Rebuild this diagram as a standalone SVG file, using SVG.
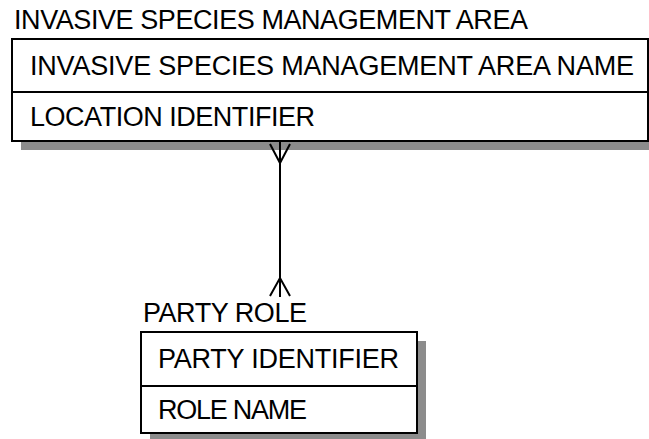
<svg xmlns="http://www.w3.org/2000/svg" width="649" height="439" viewBox="0 0 649 439">
<style>
text { font-family: "Liberation Sans", Arial, sans-serif; font-size: 27px; fill: #000; }
.box { fill: #fff; stroke: #000; stroke-width: 2; }
.shadow { fill: #8c8c8c; }
.div { stroke: #000; stroke-width: 2; }
.conn { fill: none; stroke: #000; stroke-width: 2; }
</style>
<rect width="649" height="439" fill="#fff"/>
<g id="invasive-species-management-area">
  <rect class="shadow" x="21" y="48" width="636" height="102"/>
  <rect class="box" x="12" y="39" width="636" height="102"/>
  <line class="div" x1="12" y1="92" x2="648" y2="92"/>
  <text x="14" y="29" textLength="514">INVASIVE SPECIES MANAGEMENT AREA</text>
  <text x="30" y="75" textLength="604">INVASIVE SPECIES MANAGEMENT AREA NAME</text>
  <text x="30" y="126" textLength="285">LOCATION IDENTIFIER</text>
</g>
<g id="party-role">
  <rect class="shadow" x="150" y="341" width="276" height="101"/>
  <rect class="box" x="141" y="332" width="276" height="101"/>
  <line class="div" x1="141" y1="386" x2="417" y2="386"/>
  <text x="143" y="322" textLength="164">PARTY ROLE</text>
  <text x="158" y="368" textLength="241">PARTY IDENTIFIER</text>
  <text x="158" y="419" textLength="149">ROLE NAME</text>
</g>
<g id="connectors">
  <line class="conn" x1="280" y1="141" x2="280" y2="297"/>
  <polyline class="conn" points="270,144 280,163 290,144"/>
  <polyline class="conn" points="270,296 280,278 290,296"/>
</g>
</svg>
